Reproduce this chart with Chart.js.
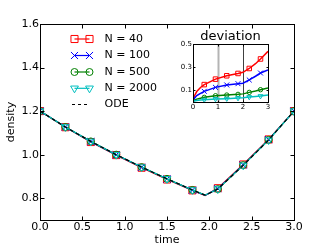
<!DOCTYPE html>
<html><head><meta charset="utf-8">
<script src="https://cdn.jsdelivr.net/npm/chart.js@4.4.1/dist/chart.umd.min.js"></script>
<style>
html,body{margin:0;padding:0;background:#fff;}
#wrap{position:relative;width:327px;height:245px;overflow:hidden;}
#main{position:absolute;left:0;top:0;}
#inset{position:absolute;left:168px;top:26px;}
</style></head><body>
<div id="wrap">
<canvas id="main" width="327" height="245"></canvas>
<canvas id="inset" width="108" height="86"></canvas>
</div>
<script>
// ---------- data: main panel ----------
const mainTimes   = [0, 0.3, 0.6, 0.9, 1.2, 1.5, 1.8, 1.95, 2.1, 2.4, 2.7, 3.0];
const markerOn    = [1, 1, 1, 1, 1, 1, 1, 0, 1, 1, 1, 1];
const densityN40  = [1.2, 1.126, 1.058, 0.998, 0.940, 0.886, 0.836, 0.812, 0.846, 0.955, 1.070, 1.2];
const densityN100 = [1.2, 1.127, 1.060, 0.999, 0.942, 0.888, 0.837, 0.813, 0.844, 0.953, 1.069, 1.2];
const densityN500 = [1.2, 1.127, 1.061, 1.000, 0.943, 0.889, 0.838, 0.814, 0.842, 0.952, 1.068, 1.2];
const densityN2000= [1.2, 1.127, 1.061, 1.000, 0.943, 0.889, 0.838, 0.814, 0.842, 0.951, 1.067, 1.2];
const densityODE  = [1.2, 1.127, 1.061, 1.000, 0.943, 0.889, 0.838, 0.814, 0.842, 0.951, 1.067, 1.2];
const seriesLabels = ['N = 40', 'N = 100', 'N = 500', 'N = 2000', 'ODE'];
const xTicksMain = [0, 0.5, 1, 1.5, 2, 2.5, 3];
const yTicksMain = [0.8, 1.0, 1.2, 1.4, 1.6];
const xTitleMain = 'time';
const yTitleMain = 'density';

// ---------- data: inset ----------
const devTimes    = [0, 0.05, 0.15, 0.3, 0.45, 0.9, 1.35, 1.8, 2.0, 2.25, 2.5, 2.7, 3.0];
const devMarkerOn = [0, 0, 0, 0, 1, 1, 1, 1, 0, 1, 0, 1, 0];
const devN40   = [0.01, 0.05, 0.09, 0.125, 0.15, 0.197, 0.226, 0.246, 0.256, 0.289, 0.33, 0.371, 0.437];
const devN100  = [0.005, 0.03, 0.055, 0.075, 0.092, 0.126, 0.147, 0.158, 0.162, 0.19, 0.222, 0.25, 0.277];
const devN500  = [0.003, 0.015, 0.025, 0.033, 0.04, 0.054, 0.06, 0.066, 0.07, 0.083, 0.095, 0.106, 0.12];
const devN2000 = [0.002, 0.008, 0.013, 0.017, 0.02, 0.026, 0.029, 0.034, 0.036, 0.043, 0.047, 0.051, 0.06];
const xTicksDev = [0, 1, 2, 3];
const yTicksDev = [0.1, 0.3, 0.5];
const devMarkLines = [1, 2];
const devTitle = 'deviation';

// ---------- styles ----------
const FONT = 'DejaVu Sans';
const styles = [
  {color: '#ff0000', pointStyle: 'rect',     r: 5,   rot: 0,   ri: 3.2},
  {color: '#0000ff', pointStyle: 'crossRot', r: 5,   rot: 0,   ri: 3.5},
  {color: '#008000', pointStyle: 'circle',   r: 3.5, rot: 0,   ri: 2.2},
  {color: '#00bfbf', pointStyle: 'triangle', r: 4.5, rot: 180, ri: 2.8}
];

function mkSeries(times, vals, flags, i, inset) {
  const st = styles[i];
  const rr = inset ? st.ri : st.r;
  return {
    label: seriesLabels[i],
    data: times.map((t, k) => ({x: t, y: vals[k]})),
    borderColor: st.color, borderWidth: inset ? 1.5 : 1.2,
    pointStyle: st.pointStyle, pointRotation: st.rot,
    pointRadius: flags.map(f => f ? rr : 0), pointHoverRadius: 0,
    pointBorderColor: st.color, pointBackgroundColor: 'rgba(0,0,0,0)',
    pointBorderWidth: 1, tension: 0, fill: false, order: 4 - i
  };
}

function frameAndTicks(len, color) {
  return {
    id: 'frameTicks',
    afterDraw(chart, args, opts) {
      const {ctx, chartArea: a, scales} = chart;
      ctx.save();
      ctx.strokeStyle = color; ctx.lineWidth = 1;
      const L = Math.round(a.left) + 0.5, R = Math.round(a.right) + 0.5,
            T = Math.round(a.top) + 0.5, B = Math.round(a.bottom) + 0.5;
      ctx.strokeRect(L, T, R - L, B - T);
      ctx.beginPath();
      scales.x.ticks.forEach(t => {
        const px = Math.round(scales.x.getPixelForValue(t.value)) + 0.5;
        ctx.moveTo(px, B); ctx.lineTo(px, B - len);
        ctx.moveTo(px, T); ctx.lineTo(px, T + len);
      });
      scales.y.ticks.forEach(t => {
        const py = Math.round(scales.y.getPixelForValue(t.value)) + 0.5;
        ctx.moveTo(L, py); ctx.lineTo(L + len, py);
        ctx.moveTo(R, py); ctx.lineTo(R - len, py);
      });
      ctx.stroke();
      ctx.restore();
    }
  };
}

const legendPlugin = {
  id: 'insideLegend',
  afterDraw(chart) {
    const ctx = chart.ctx;
    const rows = [39, 55.5, 72, 88.3, 104.5];
    ctx.save();
    ctx.font = '11px "' + FONT + '"';
    ctx.textBaseline = 'middle';
    ctx.fillStyle = '#000';
    seriesLabels.forEach((lab, i) => {
      const y = rows[i];
      if (i < 4) {
        const st = styles[i];
        ctx.strokeStyle = st.color; ctx.lineWidth = 1.2;
        ctx.beginPath(); ctx.moveTo(74.5, y); ctx.lineTo(89.5, y); ctx.stroke();
        ctx.fillStyle = 'rgba(0,0,0,0)'; ctx.lineWidth = 1;
        [74.5, 89.5].forEach(x => Chart.helpers.drawPoint(ctx,
          {pointStyle: st.pointStyle, rotation: st.rot, radius: st.r, borderWidth: 1}, x, y));
      } else {
        ctx.strokeStyle = '#000'; ctx.lineWidth = 1; ctx.setLineDash([3, 3]);
        ctx.beginPath(); ctx.moveTo(72, y); ctx.lineTo(88, y); ctx.stroke();
        ctx.setLineDash([]);
      }
      ctx.fillStyle = '#000';
      ctx.fillText(lab, 104.5, y);
    });
    ctx.restore();
  }
};

new Chart(document.getElementById('main'), {
  type: 'line',
  data: {
    datasets: [
      {label: seriesLabels[4], data: mainTimes.map((t, k) => ({x: t, y: densityODE[k]})),
       borderColor: '#000', borderWidth: 1.2, borderDash: [4, 3], pointRadius: 0,
       pointHoverRadius: 0, tension: 0, fill: false, order: 0},
      mkSeries(mainTimes, densityN40, markerOn, 0, false),
      mkSeries(mainTimes, densityN100, markerOn, 1, false),
      mkSeries(mainTimes, densityN500, markerOn, 2, false),
      mkSeries(mainTimes, densityN2000, markerOn, 3, false)
    ]
  },
  options: {
    responsive: false, animation: false, devicePixelRatio: 1,
    layout: {padding: {left: 0, top: 24, right: 33, bottom: 0}},
    plugins: {legend: {display: false}, tooltip: {enabled: false}, title: {display: false}},
    scales: {
      x: {
        type: 'linear', min: 0, max: 3,
        afterBuildTicks: s => { s.ticks = xTicksMain.map(v => ({value: v})); },
        afterFit: s => { s.height = 25; },
        grid: {display: false, drawTicks: false}, border: {display: false},
        ticks: {padding: 1, color: '#000', font: {family: FONT, size: 11},
                callback: v => Number(v).toFixed(1), maxRotation: 0, autoSkip: false},
        title: {display: true, text: xTitleMain, color: '#000',
                font: {family: FONT, size: 11, lineHeight: 0.87}, padding: 0}
      },
      y: {
        type: 'linear', min: 0.7, max: 1.6,
        afterBuildTicks: s => { s.ticks = yTicksMain.map(v => ({value: v})); },
        afterFit: s => { s.width = 40; },
        grid: {display: false, drawTicks: false}, border: {display: false},
        ticks: {padding: 1, color: '#000', font: {family: FONT, size: 11},
                callback: v => Number(v).toFixed(1), autoSkip: false},
        title: {display: true, text: yTitleMain, color: '#000',
                font: {family: FONT, size: 11}, padding: {top: 5, bottom: 0}}
      }
    }
  },
  plugins: [frameAndTicks(4, '#000'), legendPlugin]
});

const markLinePlugin = {
  id: 'markLines',
  beforeDatasetsDraw(chart) {
    const {ctx, chartArea: a, scales} = chart;
    ctx.save();
    devMarkLines.forEach((v, i) => {
      const px = Math.round(scales.x.getPixelForValue(v)) + 0.5;
      ctx.strokeStyle = i === 0 ? '#b4b4b4' : '#404040';
      ctx.lineWidth = i === 0 ? 2 : 1;
      ctx.beginPath(); ctx.moveTo(px, a.top); ctx.lineTo(px, a.bottom); ctx.stroke();
    });
    ctx.restore();
  }
};

new Chart(document.getElementById('inset'), {
  type: 'line',
  data: {
    datasets: [
      mkSeries(devTimes, devN40, devMarkerOn, 0, true),
      mkSeries(devTimes, devN100, devMarkerOn, 1, true),
      mkSeries(devTimes, devN500, devMarkerOn, 2, true),
      mkSeries(devTimes, devN2000, devMarkerOn, 3, true)
    ]
  },
  options: {
    responsive: false, animation: false, devicePixelRatio: 1,
    layout: {padding: {left: 0, top: 0, right: 8, bottom: 0}},
    plugins: {
      legend: {display: false}, tooltip: {enabled: false},
      title: {display: true, text: devTitle, color: '#000', fullSize: false,
              font: {family: FONT, size: 13, weight: 'normal', lineHeight: 1},
              padding: {top: 4.5, bottom: 0.5}}
    },
    scales: {
      x: {
        type: 'linear', min: 0, max: 3,
        afterBuildTicks: s => { s.ticks = xTicksDev.map(v => ({value: v})); },
        afterFit: s => { s.height = 10; },
        grid: {display: false, drawTicks: false}, border: {display: false},
        ticks: {padding: 1.3, color: '#000', font: {family: FONT, size: 7},
                callback: v => String(v), maxRotation: 0, autoSkip: false}
      },
      y: {
        type: 'linear', min: 0, max: 0.5,
        afterBuildTicks: s => { s.ticks = yTicksDev.map(v => ({value: v})); },
        afterFit: s => { s.width = 25; },
        grid: {display: false, drawTicks: false}, border: {display: false},
        ticks: {padding: 1, color: '#000', font: {family: FONT, size: 7},
                callback: v => Number(v).toFixed(1), autoSkip: false}
      }
    }
  },
  plugins: [markLinePlugin, frameAndTicks(2, '#000')]
});
</script>
</body></html>
